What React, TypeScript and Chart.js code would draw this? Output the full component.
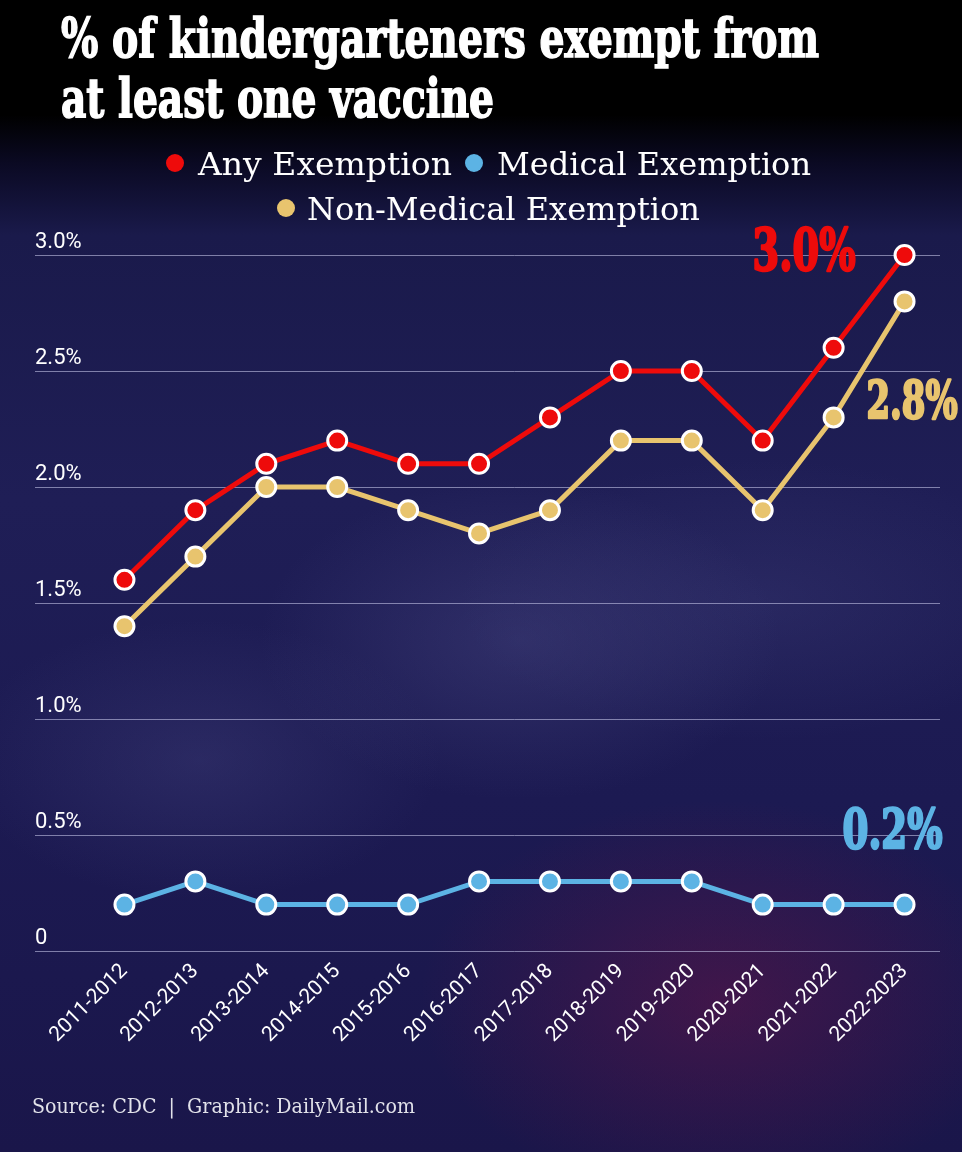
import React, { useEffect, useLayoutEffect, useRef } from 'react';
import { Chart, registerables } from 'chart.js';

Chart.register(...registerables);

const schoolYears = [
  '2011-2012', '2012-2013', '2013-2014', '2014-2015', '2015-2016', '2016-2017',
  '2017-2018', '2018-2019', '2019-2020', '2020-2021', '2021-2022', '2022-2023',
];
const anyExemption = [1.6, 1.9, 2.1, 2.2, 2.1, 2.1, 2.3, 2.5, 2.5, 2.2, 2.6, 3.0];
const medicalExemption = [0.2, 0.3, 0.2, 0.2, 0.2, 0.3, 0.3, 0.3, 0.3, 0.2, 0.2, 0.2];
const nonMedicalExemption = [1.4, 1.7, 2.0, 2.0, 1.9, 1.8, 1.9, 2.2, 2.2, 1.9, 2.3, 2.8];
const yTickValues = [0, 0.5, 1, 1.5, 2, 2.5, 3];
const seriesNames = ['Any Exemption', 'Medical Exemption', 'Non-Medical Exemption'];
const titleLines = ['% of kindergarteners exempt from', 'at least one vaccine'];
const sourceText = 'Source: CDC  |  Graphic: DailyMail.com';

const RED = '#ee0b0b';
const BLUE = '#5cb3e4';
const GOLD = '#e8c46e';
const GRID = 'rgba(195,195,230,0.6)';

const TITLE_FONT = '"DejaVu Serif Condensed", "DejaVu Serif", serif';
const SLAB_FONT = '"DejaVu Serif", serif';
const AXIS_FONT = 'Roboto, "Open Sans", sans-serif';

type FitProps = {
  text: string;
  width: number;
  left: number;
  baseline: number;
  fontSize: number;
  fontFamily: string;
  fontWeight?: number | string;
  color: string;
  stroke?: number;
};

function FitText({ text, width, left, baseline, fontSize, fontFamily, fontWeight = 400, color, stroke = 0 }: FitProps) {
  const ref = useRef<HTMLSpanElement>(null);
  useLayoutEffect(() => {
    const fit = () => {
      const el = ref.current;
      if (!el) return;
      el.style.transform = 'none';
      const w = el.getBoundingClientRect().width;
      if (w > 0) el.style.transform = `scaleX(${width / w})`;
    };
    fit();
    if ((document as any).fonts && (document as any).fonts.ready) {
      (document as any).fonts.ready.then(fit);
    }
  }, [text, width, fontSize, fontFamily]);
  const top = baseline - 0.846 * fontSize;
  return (
    <span
      ref={ref}
      style={{
        position: 'absolute',
        left,
        top,
        display: 'inline-block',
        whiteSpace: 'pre',
        transformOrigin: 'left top',
        fontFamily,
        fontWeight,
        fontSize,
        lineHeight: `${fontSize}px`,
        color,
        WebkitTextStroke: stroke ? `${stroke}px ${color}` : undefined,
      }}
    >
      {text}
    </span>
  );
}

function Dot({ cx, cy, color }: { cx: number; cy: number; color: string }) {
  return (
    <span
      style={{
        position: 'absolute',
        left: cx - 9,
        top: cy - 9,
        width: 18,
        height: 18,
        borderRadius: '50%',
        background: color,
      }}
    />
  );
}

const endLabelsPlugin = {
  id: 'endLabels',
  afterDatasetsDraw(chart: any) {
    const { ctx } = chart;
    const specs = [
      { index: 0, values: anyExemption, color: RED, size: 58, width: 103, dx: -49, dy: 15, anchor: 'right' },
      { index: 2, values: nonMedicalExemption, color: GOLD, size: 52, width: 91, dx: -38, dy: 117, anchor: 'left' },
      { index: 1, values: medicalExemption, color: BLUE, size: 55, width: 100, dx: 38, dy: -57, anchor: 'right' },
    ];
    specs.forEach((s) => {
      const meta = chart.getDatasetMeta(s.index);
      const last = meta.data[meta.data.length - 1];
      const label = s.values[s.values.length - 1].toFixed(1) + '%';
      ctx.save();
      ctx.font = `bold ${s.size}px ${TITLE_FONT}`;
      const natural = ctx.measureText(label).width;
      const sx = s.width / natural;
      const x = s.anchor === 'right' ? last.x + s.dx - s.width : last.x + s.dx;
      ctx.translate(x, last.y + s.dy);
      ctx.scale(sx, 1);
      ctx.fillStyle = s.color;
      ctx.strokeStyle = s.color;
      ctx.lineWidth = 2.5;
      ctx.lineJoin = 'round';
      ctx.textAlign = 'left';
      ctx.textBaseline = 'alphabetic';
      ctx.strokeText(label, 0, 0);
      ctx.fillText(label, 0, 0);
      ctx.restore();
    });
  },
};

export default function App() {
  const canvasRef = useRef<HTMLCanvasElement>(null);

  useEffect(() => {
    const canvas = canvasRef.current;
    if (!canvas) return;
    const pointCommon = {
      pointBorderColor: '#ffffff',
      pointBorderWidth: 3,
      pointRadius: 9.5,
      pointHoverRadius: 9.5,
      borderWidth: 5,
      tension: 0,
      clip: false as any,
    };
    const chart = new Chart(canvas, {
      type: 'line',
      data: {
        labels: schoolYears,
        datasets: [
          { label: seriesNames[0], data: anyExemption, borderColor: RED, backgroundColor: RED, pointBackgroundColor: RED, ...pointCommon },
          { label: seriesNames[1], data: medicalExemption, borderColor: BLUE, backgroundColor: BLUE, pointBackgroundColor: BLUE, ...pointCommon },
          { label: seriesNames[2], data: nonMedicalExemption, borderColor: GOLD, backgroundColor: GOLD, pointBackgroundColor: GOLD, ...pointCommon },
        ],
      },
      options: {
        responsive: false,
        animation: false,
        events: [],
        layout: { padding: { left: 35, right: 22, top: 255, bottom: 101 } },
        plugins: { legend: { display: false }, tooltip: { enabled: false } },
        scales: {
          x: {
            offset: true,
            grid: { display: false, drawTicks: false },
            border: { display: false },
            ticks: {
              color: '#ffffff',
              font: { family: AXIS_FONT, size: 21 },
              maxRotation: 45,
              minRotation: 45,
              autoSkip: false,
              padding: 8,
            },
            afterFit: (s: any) => {
              s.height = 100;
            },
          },
          y: {
            min: 0,
            max: 3,
            border: { display: false },
            afterBuildTicks: (s: any) => {
              s.ticks = yTickValues.map((v) => ({ value: v }));
            },
            grid: { color: GRID, lineWidth: 1, drawTicks: true, tickLength: 54, tickColor: GRID },
            ticks: {
              color: '#ffffff',
              font: { family: AXIS_FONT, size: 22 },
              crossAlign: 'far',
              labelOffset: -13,
              padding: 0,
              callback: (v: any) => (Number(v) === 0 ? '0' : Number(v).toFixed(1) + '%'),
            },
            afterFit: (s: any) => {
              s.width = 54;
            },
          },
        },
      } as any,
      plugins: [endLabelsPlugin],
    });
    return () => chart.destroy();
  }, []);

  return (
    <div
      style={{
        position: 'absolute',
        left: 0,
        top: 0,
        width: 962,
        height: 1152,
        overflow: 'hidden',
        background: [
          'radial-gradient(ellipse 300px 200px at 720px 1000px, rgba(110,20,70,0.45), rgba(110,20,70,0) 100%)',
          'radial-gradient(ellipse 260px 160px at 520px 640px, rgba(90,90,150,0.3), rgba(90,90,150,0) 100%)',
          'radial-gradient(ellipse 240px 140px at 200px 760px, rgba(80,80,140,0.28), rgba(80,80,140,0) 100%)',
          'radial-gradient(ellipse 300px 140px at 760px 600px, rgba(70,70,130,0.28), rgba(70,70,130,0) 100%)',
          'linear-gradient(180deg, #000000 0px, #000000 115px, #0b0a24 165px, #1a1a4b 235px, #1f1e56 500px, #1c1a52 800px, #1a164a 1152px)',
        ].join(', '),
      }}
    >
      <canvas ref={canvasRef} width={962} height={1152} style={{ position: 'absolute', left: 0, top: 0, width: 962, height: 1152 }} />
      <FitText text={titleLines[0]} width={758} left={61} baseline={57} fontSize={54} fontFamily={TITLE_FONT} fontWeight={700} color="#ffffff" stroke={1.5} />
      <FitText text={titleLines[1]} width={433} left={61} baseline={117} fontSize={54} fontFamily={TITLE_FONT} fontWeight={700} color="#ffffff" stroke={1.5} />

      <Dot cx={175} cy={163} color={RED} />
      <FitText text={seriesNames[0]} width={254} left={198} baseline={175} fontSize={32} fontFamily={SLAB_FONT} color="#ffffff" />
      <Dot cx={474} cy={163} color={BLUE} />
      <FitText text={seriesNames[1]} width={314} left={497} baseline={175} fontSize={32} fontFamily={SLAB_FONT} color="#ffffff" />
      <Dot cx={286} cy={208} color={GOLD} />
      <FitText text={seriesNames[2]} width={393} left={307} baseline={220} fontSize={32} fontFamily={SLAB_FONT} color="#ffffff" />

      <FitText text={sourceText} width={383} left={32} baseline={1113} fontSize={20} fontFamily={SLAB_FONT} color="#e2e2ea" />
    </div>
  );
}
